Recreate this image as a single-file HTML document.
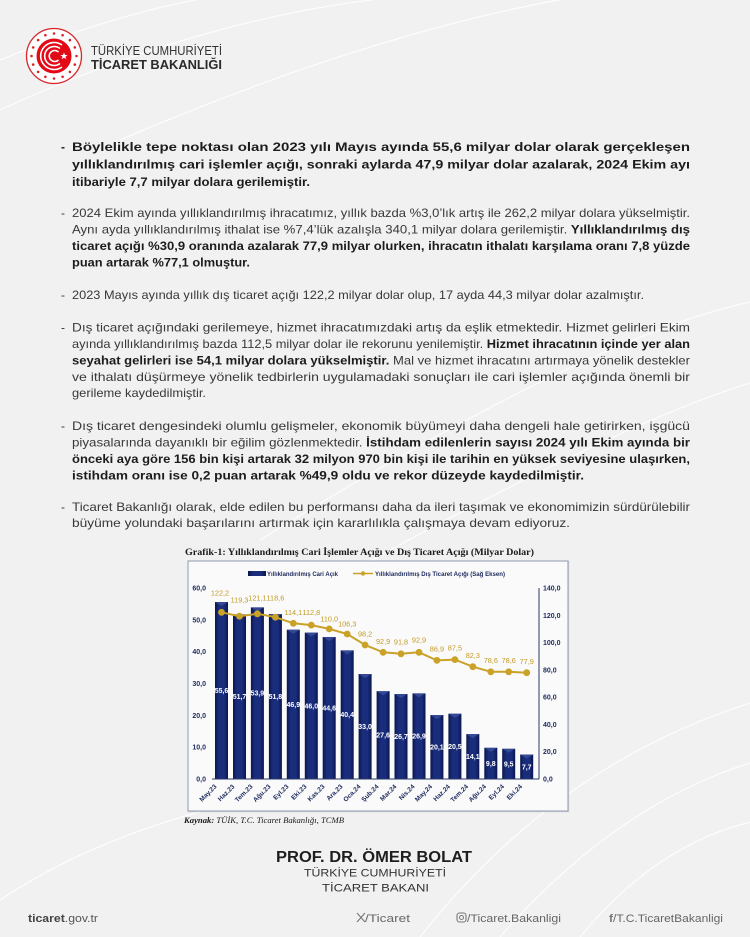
<!DOCTYPE html>
<html><head><meta charset="utf-8">
<style>
html,body{margin:0;padding:0;background:#f1f1f1;}
svg{display:block;}
.b{font-family:"Liberation Sans",sans-serif;font-size:12px;fill:#383838;}
.bb{font-weight:bold;fill:#1c1c1c;}
.ax{font-family:"Liberation Sans",sans-serif;font-size:7px;font-weight:bold;fill:#1d2a5c;}
.gl{font-family:"Liberation Sans",sans-serif;font-size:7.3px;fill:#c39a24;text-anchor:middle;}
.wl{font-family:"Liberation Sans",sans-serif;font-size:7px;font-weight:bold;fill:#ffffff;text-anchor:middle;}
.xl{font-family:"Liberation Sans",sans-serif;font-size:6.5px;font-weight:bold;fill:#1d2a5c;text-anchor:end;}
</style></head>
<body>
<svg width="750" height="937" viewBox="0 0 750 937" xmlns="http://www.w3.org/2000/svg">
<defs>
<linearGradient id="bar" x1="0" x2="1" y1="0" y2="0">
<stop offset="0" stop-color="#08164d"/><stop offset="0.3" stop-color="#1a2d7c"/><stop offset="0.7" stop-color="#1a2d7c"/><stop offset="1" stop-color="#08164d"/>
</linearGradient>
</defs>
<rect width="750" height="937" fill="#f1f1f1"/>
<!-- background decorative curves -->
<g fill="none" stroke="#ffffff" stroke-width="1.2" opacity="0.9">
<path d="M0,60 Q200,-20 330,-10"/>
<path d="M0,110 Q220,10 420,-5"/>
<path d="M120,140 Q400,20 620,-10"/>
<path d="M260,540 Q600,330 760,300"/>
<path d="M300,600 Q620,420 760,380"/>
<path d="M420,937 Q560,760 760,700"/>
<path d="M500,937 Q620,800 760,760"/>
<path d="M580,937 Q660,840 760,820"/>
<path d="M0,900 Q120,820 300,790"/>
</g>

<!-- Logo -->
<g>
<circle cx="54" cy="56" r="27.5" fill="#ffffff" stroke="#d9252a" stroke-width="1.3"/>
<g fill="#d9252a">
<circle cx="54" cy="33.5" r="1.3"/><circle cx="62.6" cy="35.2" r="1.3"/><circle cx="69.9" cy="40.1" r="1.3"/><circle cx="74.8" cy="47.4" r="1.3"/>
<circle cx="76.5" cy="56" r="1.3"/><circle cx="74.8" cy="64.6" r="1.3"/><circle cx="69.9" cy="71.9" r="1.3"/><circle cx="62.6" cy="76.8" r="1.3"/>
<circle cx="54" cy="78.5" r="1.3"/><circle cx="45.4" cy="76.8" r="1.3"/><circle cx="38.1" cy="71.9" r="1.3"/><circle cx="33.2" cy="64.6" r="1.3"/>
<circle cx="31.5" cy="56" r="1.3"/><circle cx="33.2" cy="47.4" r="1.3"/><circle cx="38.1" cy="40.1" r="1.3"/><circle cx="45.4" cy="35.2" r="1.3"/>
</g>
<circle cx="54" cy="56" r="17.5" fill="#e30a17"/>
<g fill="none" stroke="#ffffff" stroke-width="1.6">
<path d="M62,45 A13.5,13.5 0 1 0 62,67"/>
<path d="M60,48.5 A9.5,9.5 0 1 0 60,63.5"/>
<path d="M58.5,52 A5.5,5.5 0 1 0 58.5,60"/>
</g>
<polygon points="64,52.5 65,55 67.6,55 65.5,56.6 66.3,59.2 64,57.6 61.7,59.2 62.5,56.6 60.4,55 63,55" fill="#ffffff"/>
</g>
<text x="91" y="55" font-family="Liberation Sans,sans-serif" font-size="13" fill="#333" textLength="131" lengthAdjust="spacingAndGlyphs">TÜRKİYE CUMHURİYETİ</text>
<text x="91" y="69" font-family="Liberation Sans,sans-serif" font-size="13" font-weight="bold" fill="#2a2a2a" textLength="131" lengthAdjust="spacingAndGlyphs">TİCARET BAKANLIĞI</text>

<!-- Paragraphs -->
<g class="b">
<text x="61" y="151" class="bb">-</text>
<text x="72" y="151" class="bb" textLength="618" lengthAdjust="spacingAndGlyphs">Böylelikle tepe noktası olan 2023 yılı Mayıs ayında 55,6 milyar dolar olarak gerçekleşen</text>
<text x="72" y="168.5" class="bb" textLength="618" lengthAdjust="spacingAndGlyphs">yıllıklandırılmış cari işlemler açığı, sonraki aylarda 47,9 milyar dolar azalarak, 2024 Ekim ayı</text>
<text x="72" y="186" class="bb" textLength="238" lengthAdjust="spacingAndGlyphs">itibariyle 7,7 milyar dolara gerilemiştir.</text>

<text x="61" y="217">-</text>
<text x="72" y="217" textLength="618" lengthAdjust="spacingAndGlyphs">2024 Ekim ayında yıllıklandırılmış ihracatımız, yıllık bazda %3,0’lık artış ile 262,2 milyar dolara yükselmiştir.</text>
<text x="72" y="233.5" textLength="618" lengthAdjust="spacingAndGlyphs">Aynı ayda yıllıklandırılmış ithalat ise %7,4’lük azalışla 340,1 milyar dolara gerilemiştir. <tspan class="bb">Yıllıklandırılmış dış</tspan></text>
<text x="72" y="250" class="bb" textLength="618" lengthAdjust="spacingAndGlyphs">ticaret açığı %30,9 oranında azalarak 77,9 milyar olurken, ihracatın ithalatı karşılama oranı 7,8 yüzde</text>
<text x="72" y="266.5" class="bb" textLength="178" lengthAdjust="spacingAndGlyphs">puan artarak %77,1 olmuştur.</text>

<text x="61" y="299">-</text>
<text x="72" y="299" textLength="572" lengthAdjust="spacingAndGlyphs">2023 Mayıs ayında yıllık dış ticaret açığı 122,2 milyar dolar olup, 17 ayda 44,3 milyar dolar azalmıştır.</text>

<text x="61" y="331.5">-</text>
<text x="72" y="331.5" textLength="618" lengthAdjust="spacingAndGlyphs">Dış ticaret açığındaki gerilemeye, hizmet ihracatımızdaki artış da eşlik etmektedir. Hizmet gelirleri Ekim</text>
<text x="72" y="348" textLength="618" lengthAdjust="spacingAndGlyphs">ayında yıllıklandırılmış bazda 112,5 milyar dolar ile rekorunu yenilemiştir. <tspan class="bb">Hizmet ihracatının içinde yer alan</tspan></text>
<text x="72" y="364.5" textLength="618" lengthAdjust="spacingAndGlyphs"><tspan class="bb">seyahat gelirleri ise 54,1 milyar dolara yükselmiştir.</tspan> Mal ve hizmet ihracatını artırmaya yönelik destekler</text>
<text x="72" y="381" textLength="618" lengthAdjust="spacingAndGlyphs">ve ithalatı düşürmeye yönelik tedbirlerin uygulamadaki sonuçları ile cari işlemler açığında önemli bir</text>
<text x="72" y="397" textLength="134" lengthAdjust="spacingAndGlyphs">gerileme kaydedilmiştir.</text>

<text x="61" y="430">-</text>
<text x="72" y="430" textLength="618" lengthAdjust="spacingAndGlyphs">Dış ticaret dengesindeki olumlu gelişmeler, ekonomik büyümeyi daha dengeli hale getirirken, işgücü</text>
<text x="72" y="446.5" textLength="618" lengthAdjust="spacingAndGlyphs">piyasalarında dayanıklı bir eğilim gözlenmektedir. <tspan class="bb">İstihdam edilenlerin sayısı 2024 yılı Ekim ayında bir</tspan></text>
<text x="72" y="463" class="bb" textLength="618" lengthAdjust="spacingAndGlyphs">önceki aya göre 156 bin kişi artarak 32 milyon 970 bin kişi ile tarihin en yüksek seviyesine ulaşırken,</text>
<text x="72" y="479.5" class="bb" textLength="512" lengthAdjust="spacingAndGlyphs">istihdam oranı ise 0,2 puan artarak %49,9 oldu ve rekor düzeyde kaydedilmiştir.</text>

<text x="61" y="511">-</text>
<text x="72" y="511" textLength="618" lengthAdjust="spacingAndGlyphs">Ticaret Bakanlığı olarak, elde edilen bu performansı daha da ileri taşımak ve ekonomimizin sürdürülebilir</text>
<text x="72" y="527" textLength="498" lengthAdjust="spacingAndGlyphs">büyüme yolundaki başarılarını artırmak için kararlılıkla çalışmaya devam ediyoruz.</text>
</g>

<!-- Chart title -->
<text x="185" y="555" font-family="Liberation Serif,serif" font-size="9.5" font-weight="bold" fill="#1a1a1a" textLength="349" lengthAdjust="spacingAndGlyphs">Grafik-1: Yıllıklandırılmış Cari İşlemler Açığı ve Dış Ticaret Açığı (Milyar Dolar)</text>

<!-- Chart box -->
<rect x="189" y="562" width="379" height="249" fill="#fafafa" stroke="#c4c8d0" stroke-width="2.5" opacity="0.6"/>
<rect x="188" y="561" width="380" height="250" fill="#fafafa" stroke="#8f99ad" stroke-width="1"/>

<!-- Legend -->
<rect x="248" y="571" width="18" height="5" fill="url(#bar)"/>
<text x="267" y="576" font-family="Liberation Sans,sans-serif" font-size="6" font-weight="bold" fill="#1d2a5c" textLength="71" lengthAdjust="spacingAndGlyphs">Yıllıklandırılmış Cari Açık</text>
<line x1="353" y1="573.5" x2="373" y2="573.5" stroke="#c9a227" stroke-width="1.6"/>
<circle cx="363" cy="573.5" r="2.2" fill="#c9a227"/>
<text x="375" y="576" font-family="Liberation Sans,sans-serif" font-size="6" font-weight="bold" fill="#1d2a5c" textLength="130" lengthAdjust="spacingAndGlyphs">Yıllıklandırılmış Dış Ticaret Açığı (Sağ Eksen)</text>

<!-- Left axis labels -->
<g class="ax" text-anchor="end">
<text x="206" y="781.5">0,0</text>
<text x="206" y="749.7">10,0</text>
<text x="206" y="717.8">20,0</text>
<text x="206" y="686">30,0</text>
<text x="206" y="654.2">40,0</text>
<text x="206" y="622.3">50,0</text>
<text x="206" y="590.5">60,0</text>
</g>
<!-- Right axis -->
<line x1="539" y1="588" x2="539" y2="779" stroke="#2b3a6b" stroke-width="1"/>
<g class="ax">
<text x="543" y="781.5">0,0</text>
<text x="543" y="754.2">20,0</text>
<text x="543" y="726.9">40,0</text>
<text x="543" y="699.6">60,0</text>
<text x="543" y="672.4">80,0</text>
<text x="543" y="645.1">100,0</text>
<text x="543" y="617.8">120,0</text>
<text x="543" y="590.5">140,0</text>
</g>

<!-- Bars -->
<g>
<rect x="215" y="602" width="13" height="177" fill="url(#bar)"/>
<rect x="233" y="614.4" width="13" height="164.6" fill="url(#bar)"/>
<rect x="250.9" y="607.4" width="13" height="171.6" fill="url(#bar)"/>
<rect x="268.9" y="614.1" width="13" height="164.9" fill="url(#bar)"/>
<rect x="286.8" y="629.7" width="13" height="149.3" fill="url(#bar)"/>
<rect x="304.8" y="632.6" width="13" height="146.4" fill="url(#bar)"/>
<rect x="322.7" y="637" width="13" height="142" fill="url(#bar)"/>
<rect x="340.7" y="650.4" width="13" height="128.6" fill="url(#bar)"/>
<rect x="358.6" y="674" width="13" height="105" fill="url(#bar)"/>
<rect x="376.6" y="691.2" width="13" height="87.8" fill="url(#bar)"/>
<rect x="394.5" y="694" width="13" height="85" fill="url(#bar)"/>
<rect x="412.5" y="693.4" width="13" height="85.6" fill="url(#bar)"/>
<rect x="430.4" y="715" width="13" height="64" fill="url(#bar)"/>
<rect x="448.4" y="713.7" width="13" height="65.3" fill="url(#bar)"/>
<rect x="466.3" y="734.1" width="13" height="44.9" fill="url(#bar)"/>
<rect x="484.3" y="747.8" width="13" height="31.2" fill="url(#bar)"/>
<rect x="502.2" y="748.8" width="13" height="30.2" fill="url(#bar)"/>
<rect x="520.2" y="754.5" width="13" height="24.5" fill="url(#bar)"/>
</g>
<g fill="#3b4f9c" opacity="0.8">
<polygon points="215,602 228,602 221.5,606"/>
<polygon points="233,614.4 246,614.4 239.5,618.4"/>
<polygon points="250.9,607.4 263.9,607.4 257.4,611.4"/>
<polygon points="268.9,614.1 281.9,614.1 275.4,618.1"/>
<polygon points="286.8,629.7 299.8,629.7 293.3,633.7"/>
<polygon points="304.8,632.6 317.8,632.6 311.3,636.6"/>
<polygon points="322.7,637 335.7,637 329.2,641"/>
<polygon points="340.7,650.4 353.7,650.4 347.2,654.4"/>
<polygon points="358.6,674 371.6,674 365.1,678"/>
<polygon points="376.6,691.2 389.6,691.2 383.1,695.2"/>
<polygon points="394.5,694 407.5,694 401,698"/>
<polygon points="412.5,693.4 425.5,693.4 419,697.4"/>
<polygon points="430.4,715 443.4,715 436.9,719"/>
<polygon points="448.4,713.7 461.4,713.7 454.9,717.7"/>
<polygon points="466.3,734.1 479.3,734.1 472.8,738.1"/>
<polygon points="484.3,747.8 497.3,747.8 490.8,751.8"/>
<polygon points="502.2,748.8 515.2,748.8 508.7,752.8"/>
<polygon points="520.2,754.5 533.2,754.5 526.7,758.5"/>
</g>
<line x1="212" y1="779" x2="539" y2="779" stroke="#2b3a6b" stroke-width="1"/>

<!-- Bar labels -->
<g class="wl">
<text x="221.5" y="693">55,6</text>
<text x="239.5" y="699.2">51,7</text>
<text x="257.4" y="695.7">53,9</text>
<text x="275.4" y="699">51,8</text>
<text x="293.3" y="706.8">46,9</text>
<text x="311.3" y="708.3">46,0</text>
<text x="329.2" y="710.5">44,6</text>
<text x="347.2" y="717.2">40,4</text>
<text x="365.1" y="729">33,0</text>
<text x="383.1" y="737.6">27,6</text>
<text x="401" y="739">26,7</text>
<text x="419" y="738.7">26,9</text>
<text x="436.9" y="749.5">20,1</text>
<text x="454.9" y="748.8">20,5</text>
<text x="472.8" y="759">14,1</text>
<text x="490.8" y="765.9">9,8</text>
<text x="508.7" y="766.4">9,5</text>
<text x="526.7" y="769.3">7,7</text>
</g>

<!-- Line series -->
<polyline fill="none" stroke="#c9a227" stroke-width="2" points="221.5,612.3 239.5,616.2 257.4,613.8 275.4,617.2 293.3,623.3 311.3,625.1 329.2,628.9 347.2,634 365.1,645 383.1,652.3 401,653.8 419,652.3 436.9,660.4 454.9,659.6 472.8,666.7 490.8,671.8 508.7,671.8 526.7,672.7"/>
<g fill="#c9a227">
<circle cx="221.5" cy="612.3" r="3.4"/><circle cx="239.5" cy="616.2" r="3.4"/><circle cx="257.4" cy="613.8" r="3.4"/><circle cx="275.4" cy="617.2" r="3.4"/>
<circle cx="293.3" cy="623.3" r="3.4"/><circle cx="311.3" cy="625.1" r="3.4"/><circle cx="329.2" cy="628.9" r="3.4"/><circle cx="347.2" cy="634" r="3.4"/>
<circle cx="365.1" cy="645" r="3.4"/><circle cx="383.1" cy="652.3" r="3.4"/><circle cx="401" cy="653.8" r="3.4"/><circle cx="419" cy="652.3" r="3.4"/>
<circle cx="436.9" cy="660.4" r="3.4"/><circle cx="454.9" cy="659.6" r="3.4"/><circle cx="472.8" cy="666.7" r="3.4"/><circle cx="490.8" cy="671.8" r="3.4"/>
<circle cx="508.7" cy="671.8" r="3.4"/><circle cx="526.7" cy="672.7" r="3.4"/>
</g>
<g class="gl">
<text x="220" y="595.5">122,2</text>
<text x="239.5" y="602.5">119,3</text>
<text x="257.4" y="600.5">121,1</text>
<text x="275.4" y="600.5">118,6</text>
<text x="293.3" y="615">114,1</text>
<text x="311.3" y="615">112,8</text>
<text x="329.2" y="621.5">110,0</text>
<text x="347.2" y="626.5">106,3</text>
<text x="365.1" y="636.5">98,2</text>
<text x="383.1" y="644">92,9</text>
<text x="401" y="644.5">91,8</text>
<text x="419" y="642.5">92,9</text>
<text x="436.9" y="651.5">86,9</text>
<text x="454.9" y="650.5">87,5</text>
<text x="472.8" y="658">82,3</text>
<text x="490.8" y="663">78,6</text>
<text x="508.7" y="663">78,6</text>
<text x="526.7" y="664">77,9</text>
</g>

<!-- X labels -->
<g class="xl">
<text transform="translate(217,787) rotate(-45)">May.23</text>
<text transform="translate(235,787) rotate(-45)">Haz.23</text>
<text transform="translate(253,787) rotate(-45)">Tem.23</text>
<text transform="translate(271,787) rotate(-45)">Ağu.23</text>
<text transform="translate(289,787) rotate(-45)">Eyl.23</text>
<text transform="translate(307,787) rotate(-45)">Eki.23</text>
<text transform="translate(325,787) rotate(-45)">Kas.23</text>
<text transform="translate(343,787) rotate(-45)">Ara.23</text>
<text transform="translate(361,787) rotate(-45)">Oca.24</text>
<text transform="translate(379,787) rotate(-45)">Şub.24</text>
<text transform="translate(397,787) rotate(-45)">Mar.24</text>
<text transform="translate(415,787) rotate(-45)">Nis.24</text>
<text transform="translate(432.5,787) rotate(-45)">May.24</text>
<text transform="translate(450.5,787) rotate(-45)">Haz.24</text>
<text transform="translate(468.5,787) rotate(-45)">Tem.24</text>
<text transform="translate(486.5,787) rotate(-45)">Ağu.24</text>
<text transform="translate(504.5,787) rotate(-45)">Eyl.24</text>
<text transform="translate(522.5,787) rotate(-45)">Eki.24</text>
</g>

<!-- Source -->
<text x="184" y="823" font-family="Liberation Serif,serif" font-size="8.5" font-style="italic" fill="#1a1a1a" textLength="160" lengthAdjust="spacingAndGlyphs"><tspan font-weight="bold">Kaynak:</tspan> TÜİK, T.C. Ticaret Bakanlığı, TCMB</text>

<!-- Signature -->
<text x="276" y="862" font-family="Liberation Sans,sans-serif" font-size="16" font-weight="bold" fill="#1e1e1e" textLength="196" lengthAdjust="spacingAndGlyphs">PROF. DR. ÖMER BOLAT</text>
<text x="304" y="876.5" font-family="Liberation Sans,sans-serif" font-size="11" fill="#333" textLength="142" lengthAdjust="spacingAndGlyphs">TÜRKİYE CUMHURİYETİ</text>
<text x="322" y="891.5" font-family="Liberation Sans,sans-serif" font-size="11" fill="#333" textLength="107" lengthAdjust="spacingAndGlyphs">TİCARET BAKANI</text>

<!-- Footer row -->
<text x="28" y="922" font-family="Liberation Sans,sans-serif" font-size="11" fill="#555" textLength="70" lengthAdjust="spacingAndGlyphs"><tspan font-weight="bold" fill="#444">ticaret</tspan>.gov.tr</text>
<g stroke="#777" stroke-width="1.1">
<line x1="357" y1="913" x2="365" y2="922"/><line x1="365" y1="913" x2="357" y2="922"/>
</g>
<text x="365" y="922" font-family="Liberation Sans,sans-serif" font-size="11" fill="#666" textLength="45" lengthAdjust="spacingAndGlyphs">/Ticaret</text>
<rect x="457" y="913" width="9" height="9" rx="2.5" fill="none" stroke="#777" stroke-width="1.1"/>
<circle cx="461.5" cy="917.5" r="2" fill="none" stroke="#777" stroke-width="1"/>
<text x="467" y="922" font-family="Liberation Sans,sans-serif" font-size="11" fill="#666" textLength="94" lengthAdjust="spacingAndGlyphs">/Ticaret.Bakanligi</text>
<text x="609" y="922" font-family="Liberation Sans,sans-serif" font-size="11" fill="#666" textLength="114" lengthAdjust="spacingAndGlyphs"><tspan font-weight="bold" fill="#777">f</tspan>/T.C.TicaretBakanligi</text>
</svg>
</body></html>
